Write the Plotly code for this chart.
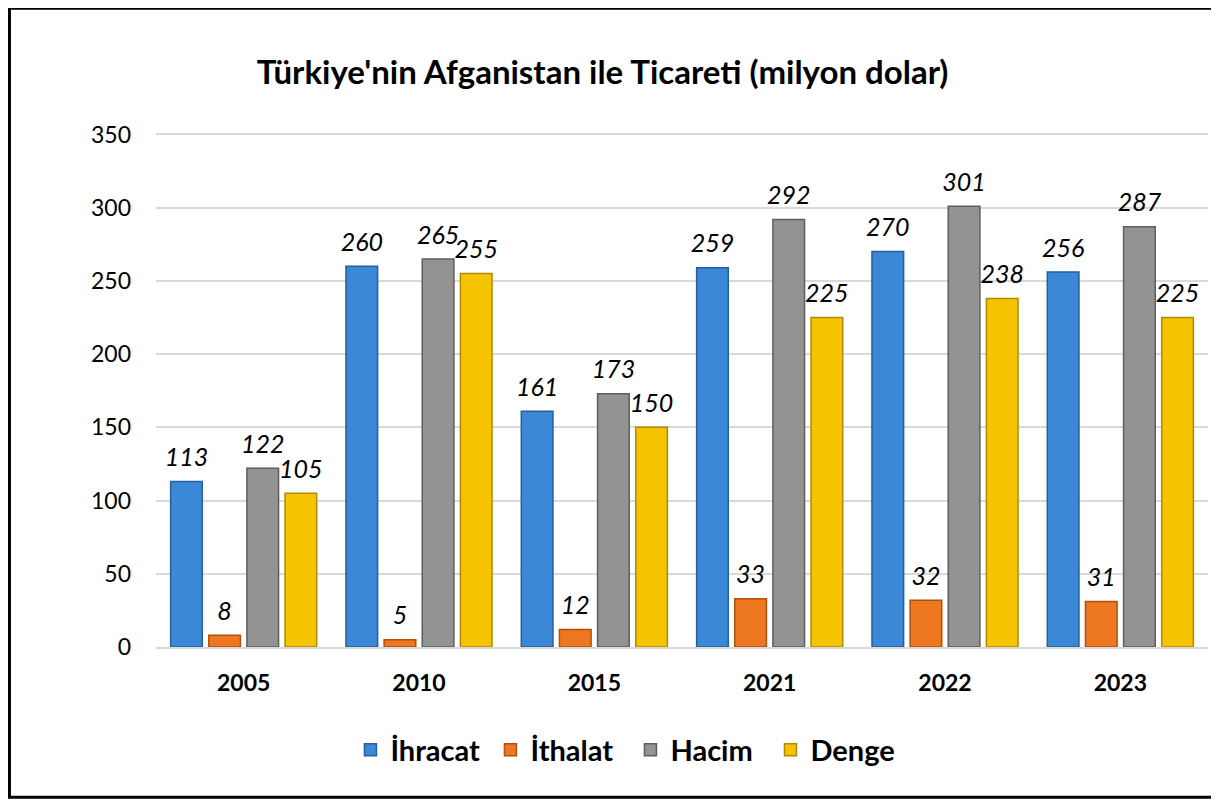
import plotly.graph_objects as go

YEARS = ["2005", "2010", "2015", "2021", "2022", "2023"]
IHRACAT = [113, 260, 161, 259, 270, 256]
ITHALAT = [8, 5, 12, 33, 32, 31]
HACIM = [122, 265, 173, 292, 301, 287]
DENGE = [105, 255, 150, 225, 238, 225]

SERIES = [("İhracat", IHRACAT, "#3b88d6", "#255f9c"),
          ("İthalat", ITHALAT, "#ee7722", "#b0520e"),
          ("Hacim", HACIM, "#939393", "#5e5e5e"),
          ("Denge", DENGE, "#f5c300", "#b08b00")]

FONT = "Lato"
GAP = 0.13

fig = go.Figure()
for name, vals, color, edge in SERIES:
    fig.add_bar(x=YEARS, y=vals, name=name,
                marker=dict(color=color, line=dict(color=edge, width=1.5)))

# value labels: grouped text-only scatter so they line up with the bars
for name, vals, color, edge in SERIES:
    fig.add_scatter(x=YEARS, y=vals, mode="markers+text", text=vals,
                    textposition="top center", showlegend=False,
                    hoverinfo="skip", cliponaxis=False,
                    marker=dict(size=13, opacity=0),
                    textfont=dict(family=FONT, size=25, color="#000",
                                  style="italic"))

# outer frame around the whole chart
fig.add_shape(type="rect", xref="paper", yref="paper",
              x0=-0.1393, x1=1.0076, y0=-0.2924, y1=1.2427,
              line=dict(color="#000", width=3))

fig.update_layout(
    width=1211, height=792,
    margin=dict(l=148, r=11, t=125, b=153),
    paper_bgcolor="white", plot_bgcolor="white",
    font=dict(family=FONT, color="#000"),
    title=dict(text="<b>Türkiye'nin Afganistan ile Ticareti (milyon dolar)</b>",
               x=0.491, xanchor="center", y=0.918, yanchor="middle",
               font=dict(size=33, family=FONT, color="#000")),
    barmode="group", bargap=GAP, bargroupgap=0.17,
    scattermode="group", scattergap=GAP,
    showlegend=True,
    legend=dict(orientation="h", x=0.451, xanchor="center", y=-0.2, yanchor="middle",
                font=dict(size=29, family=FONT, color="#000", weight="bold"),
                entrywidth=95, traceorder="normal"),
    xaxis=dict(tickfont=dict(size=23, family=FONT, weight="bold"),
               showline=True, linecolor="#d9d9d9", linewidth=2,
               ticks="", ticklabelstandoff=14),
    yaxis=dict(range=[0, 351], dtick=50, tickfont=dict(size=23, family=FONT),
               showgrid=True, gridcolor="#d9d9d9", gridwidth=1.5,
               zeroline=False, ticks="", ticklabelstandoff=24),
)

fig.write_html("out.html")
